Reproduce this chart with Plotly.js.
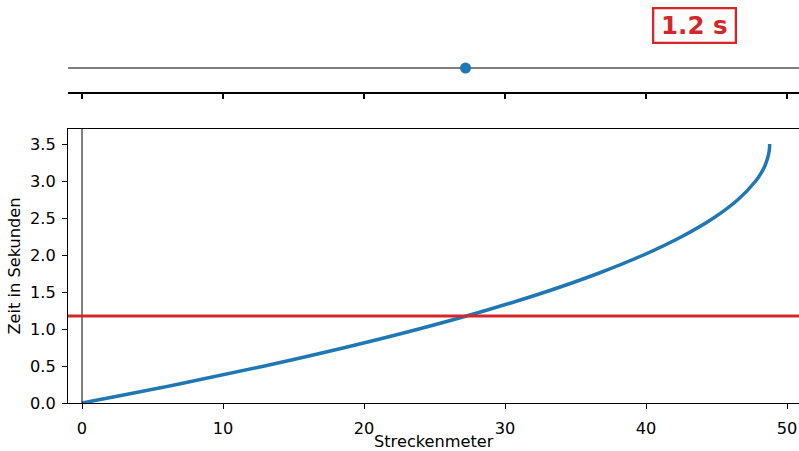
<!DOCTYPE html>
<html>
<head>
<meta charset="utf-8">
<script src="https://cdn.plot.ly/plotly-3.0.1.min.js"></script>
<style>
  html, body { margin: 0; padding: 0; background: #fff; }
  #chart { width: 799px; height: 451px; }
</style>
</head>
<body>
<div id="chart"></div>
<script>
// Braking curve: elapsed time (s) against distance travelled (m)
const zeitSek   = [0, 0.25, 0.5, 0.75, 1.0, 1.25, 1.5, 1.75, 2.0, 2.25, 2.5, 2.75, 3.0, 3.1, 3.2, 3.3, 3.4, 3.45, 3.5];
const streckeM  = [0, 6.72, 12.94, 18.66, 23.89, 28.62, 32.86, 36.59, 39.82, 42.55, 44.79, 46.53, 47.78, 48.14, 48.42, 48.61, 48.73, 48.76, 48.77];

// Current moment shown by the slider marker and the red line
const aktuelleZeit    = 1.175;
const aktuelleStrecke = 27.2;

const xTicks = [0, 10, 20, 30, 40, 50];
const yTicks = [0, 0.5, 1.0, 1.5, 2.0, 2.5, 3.0, 3.5];

const xTitel = 'Streckenmeter';
const yTitel = 'Zeit in Sekunden';

const blau = '#1f77b4';
const rot  = '#d62728';
const fontFamily = 'DejaVu Sans, sans-serif';
const fs = 16.2;

const traces = [
  {
    x: streckeM, y: zeitSek, xaxis: 'x', yaxis: 'y',
    type: 'scatter', mode: 'lines',
    line: { color: blau, width: 3.5, shape: 'spline' },
    hoverinfo: 'skip'
  },
  {
    x: [aktuelleStrecke], y: [0], xaxis: 'x2', yaxis: 'y2',
    type: 'scatter', mode: 'markers',
    marker: { color: blau, size: 11 },
    hoverinfo: 'skip'
  }
];

const layout = {
  width: 799, height: 451,
  margin: { l: 68, r: 0, t: 0, b: 48 },
  paper_bgcolor: '#fff', plot_bgcolor: 'rgba(0,0,0,0)',
  showlegend: false,
  font: { family: fontFamily, size: fs, color: '#000' },
  xaxis: {
    domain: [0, 1], anchor: 'y',
    range: [-0.993, 50.85],
    tickvals: xTicks, ticktext: xTicks.map(String),
    ticks: 'outside', ticklen: 5, tickwidth: 1, tickcolor: '#000',
    ticklabelstandoff: 6,
    showline: true, linecolor: '#000', linewidth: 1, mirror: true,
    showgrid: false, zeroline: false
  },
  yaxis: {
    domain: [0, 0.6799], anchor: 'x',
    range: [0, 3.703],
    tickvals: yTicks, ticktext: yTicks.map(v => v.toFixed(1)),
    ticks: 'outside', ticklen: 5, tickwidth: 1, tickcolor: '#000',
    ticklabelstandoff: 3,
    showline: true, linecolor: '#000', linewidth: 1,
    showgrid: false, zeroline: false,
    title: { text: yTitel, font: { size: fs }, standoff: 5 }
  },
  xaxis2: {
    domain: [0, 1], anchor: 'y2',
    range: [-0.993, 50.85],
    tickvals: xTicks, showticklabels: false,
    ticks: 'outside', ticklen: 5, tickwidth: 1.2, tickcolor: '#000',
    showline: true, linecolor: '#000', linewidth: 2,
    showgrid: false, zeroline: false
  },
  yaxis2: {
    domain: [0.7717, 1], anchor: 'x2',
    range: [-1, 2.833],
    visible: false, showgrid: false, zeroline: false
  },
  shapes: [
    // slider track
    { type: 'line', xref: 'x2 domain', yref: 'y2', x0: 0, x1: 1, y0: 0, y1: 0,
      line: { color: '#000', width: 1 }, layer: 'below' },
    // start line at distance 0
    { type: 'line', xref: 'x', yref: 'y domain', x0: 0, x1: 0, y0: 0, y1: 1,
      line: { color: '#000', width: 1 } },
    // current time
    { type: 'line', xref: 'x domain', yref: 'y', x0: 0, x1: 1,
      y0: aktuelleZeit, y1: aktuelleZeit,
      line: { color: rot, width: 3 } }
  ],
  annotations: [
    // x axis title, placed below the tick labels
    {
      xref: 'x domain', yref: 'paper', x: 0.5, y: -0.0955,
      xanchor: 'center', yanchor: 'middle', showarrow: false,
      text: xTitel, font: { family: fontFamily, size: fs, color: '#000' }
    },
    // current time readout
    {
      xref: 'paper', yref: 'paper', x: 0.857, y: 0.936,
      xanchor: 'center', yanchor: 'middle', showarrow: false,
      text: '<b>' + aktuelleZeit.toFixed(1) + ' s</b>',
      font: { family: fontFamily, size: 24.5, color: rot },
      bordercolor: rot, borderwidth: 2.3, borderpad: 2,
      width: 76, height: 28, bgcolor: '#fff'
    }
  ]
};

Plotly.newPlot('chart', traces, layout, { staticPlot: true, displayModeBar: false });
</script>
</body>
</html>
